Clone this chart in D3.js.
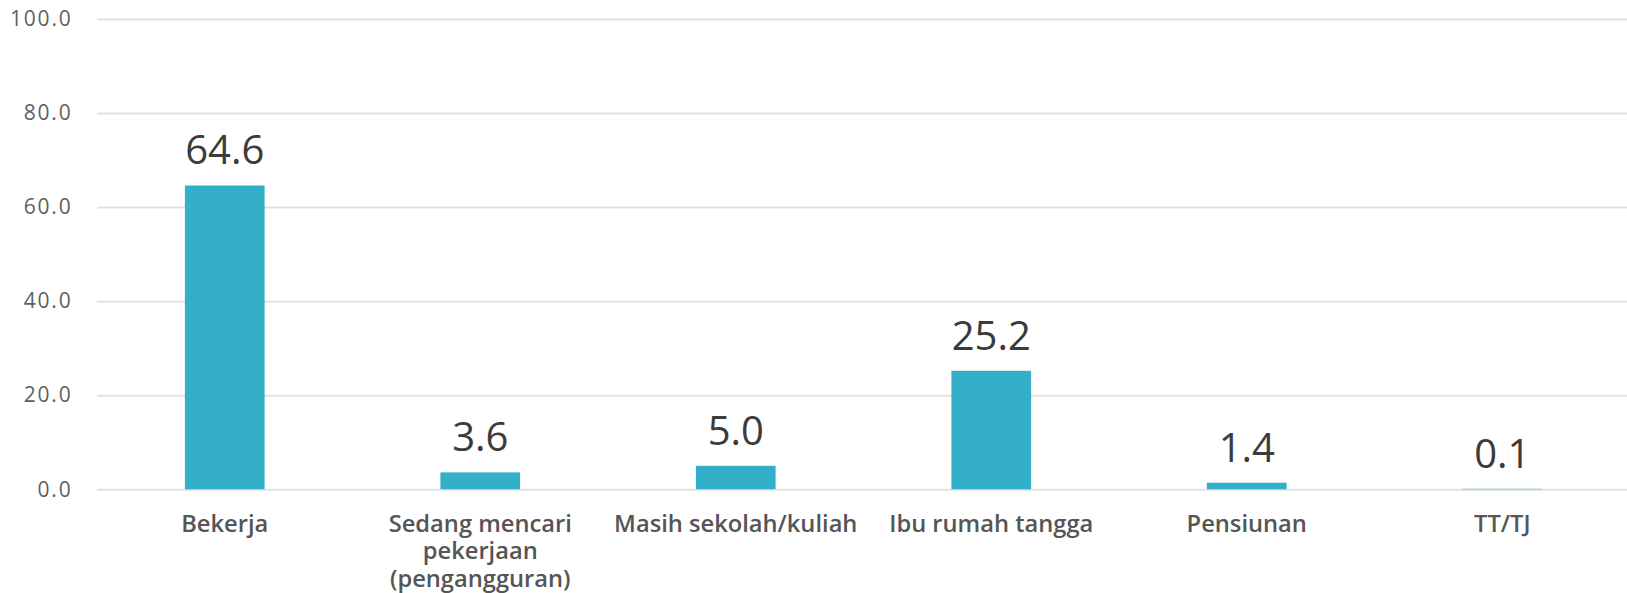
<!DOCTYPE html>
<html>
<head>
<meta charset="utf-8">
<script src="https://cdn.jsdelivr.net/npm/d3@7"></script>
<style>
  html, body { margin: 0; padding: 0; background: #fff; }
  svg { display: block; }
  text { font-family: "Open Sans", "Noto Sans", sans-serif; }
</style>
</head>
<body>
<svg id="chart" width="1627" height="593"></svg>
<script>
const categories = [
  ["Bekerja"],
  ["Sedang mencari", "pekerjaan", "(pengangguran)"],
  ["Masih sekolah/kuliah"],
  ["Ibu rumah tangga"],
  ["Pensiunan"],
  ["TT/TJ"]
];
const values = [64.6, 3.6, 5.0, 25.2, 1.4, 0.1];
const yTicks = [0, 20, 40, 60, 80, 100];

(function () {
const svg = d3.select("#chart");
const W = 1627;
const mLeft = 97, mRight = 1630, mTop = 19, mBottom = 489.3;

const x = d3.scaleBand()
  .domain(d3.range(categories.length))
  .range([mLeft, mRight])
  .paddingInner(0.688)
  .paddingOuter(0.344);

const y = d3.scaleLinear().domain([0, 100]).range([mBottom, mTop]);

const yAxis = d3.axisLeft(y)
  .tickValues(yTicks)
  .tickSize(-(W - mLeft))
  .tickPadding(24.5)
  .tickFormat(d3.format(".1f"));

const gy = svg.append("g")
  .attr("transform", `translate(${mLeft},0)`)
  .call(yAxis);
gy.select(".domain").remove();
gy.selectAll(".tick line")
  .attr("stroke", "#e2e2e2")
  .attr("stroke-width", 2);
gy.selectAll(".tick text")
  .attr("fill", "#5f5f5f")
  .style("font-size", "21px")
  .style("letter-spacing", "1.8px")
  .style("font-family", '"Open Sans", sans-serif');

svg.append("g").selectAll("rect")
  .data(values)
  .join("rect")
  .attr("x", (d, i) => x(i))
  .attr("width", x.bandwidth())
  .attr("y", d => y(d))
  .attr("height", d => y(0) - y(d))
  .attr("fill", "#34afca");

svg.append("g").selectAll("text")
  .data(values)
  .join("text")
  .attr("x", (d, i) => x(i) + x.bandwidth() / 2)
  .attr("y", d => y(d) - 21)
  .attr("text-anchor", "middle")
  .attr("fill", "#3b3b3b")
  .style("font-size", "40px")
  .text(d => d3.format(".1f")(d));

const cl = svg.append("g").selectAll("text")
  .data(categories)
  .join("text")
  .attr("x", (d, i) => x(i) + x.bandwidth() / 2)
  .attr("y", 531.5)
  .attr("text-anchor", "middle")
  .attr("fill", "#555555")
  .style("font-size", "23.7px")
  .style("font-weight", "600");
cl.selectAll("tspan")
  .data(d => d)
  .join("tspan")
  .attr("x", function () { return this.parentNode.getAttribute("x"); })
  .attr("dy", (d, i) => i === 0 ? 0 : 27.5)
  .text(d => d);
})();
</script>
</body>
</html>
